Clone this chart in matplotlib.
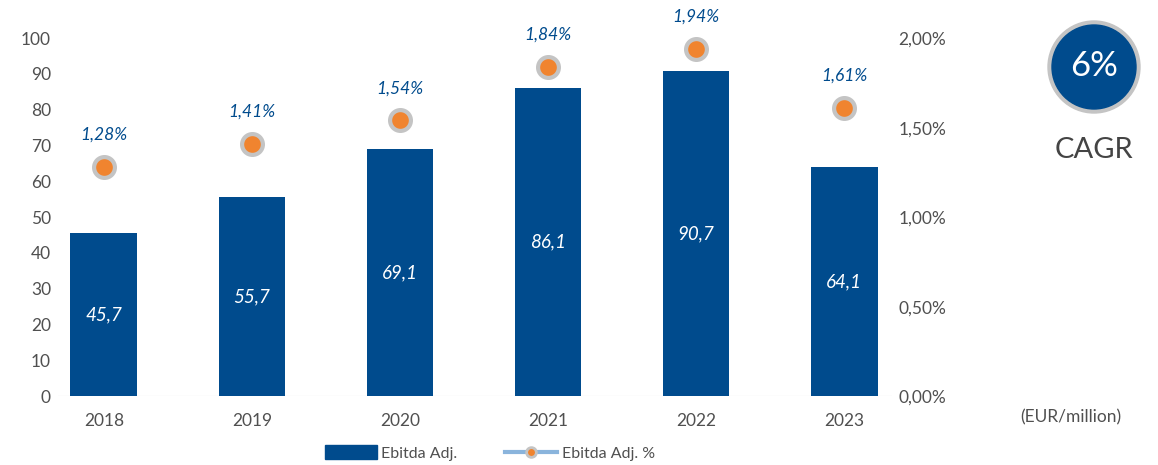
import matplotlib
matplotlib.use("Agg")
import matplotlib.pyplot as plt
from matplotlib.lines import Line2D
from matplotlib.patches import Patch, Circle

years = ["2018", "2019", "2020", "2021", "2022", "2023"]
ebitda = [45.7, 55.7, 69.1, 86.1, 90.7, 64.1]
ebitda_pct = [1.28, 1.41, 1.54, 1.84, 1.94, 1.61]
left_ticks = [0, 10, 20, 30, 40, 50, 60, 70, 80, 90, 100]
right_ticks = [0.0, 0.5, 1.0, 1.5, 2.0]
cagr_text = "6%"

BLUE = "#004b8d"
ORANGE = "#f0842f"
GREY_RING = "#c4c4c4"
TEXT = "#505050"
LINE_BLUE = "#8ab4dc"

plt.rcParams["font.family"] = ["Lato", "DejaVu Sans"]

fig = plt.figure(figsize=(11.58, 4.65), dpi=100)
ax = fig.add_axes([0.050, 0.148, 0.720, 0.770])
ax2 = ax.twinx()

x = list(range(len(years)))
ax.bar(x, ebitda, width=0.45, color=BLUE, zorder=2)
for xi, v in zip(x, ebitda):
    ax.text(xi, v / 2, f"{v:.1f}".replace(".", ","), ha="center", va="center",
            color="white", fontsize=13.5, style="italic")

ax.set_xlim(-0.31, 5.32)
ax.set_ylim(0, 100)
ax.set_yticks(left_ticks)
ax.set_xticks(x)
ax.set_xticklabels(years)

ax2.set_ylim(0, 2.0)
ax2.set_yticks(right_ticks)
ax2.set_yticklabels([f"{t:.2f}%".replace(".", ",") for t in right_ticks])

ax2.plot(x, ebitda_pct, linestyle="none", marker="o", markersize=15,
         markerfacecolor=ORANGE, markeredgecolor=GREY_RING, markeredgewidth=3,
         clip_on=False, zorder=3)
for xi, p in zip(x, ebitda_pct):
    ax2.annotate(f"{p:.2f}%".replace(".", ","), (xi, p), xytext=(0, 23),
                 textcoords="offset points", ha="center", va="center",
                 color=BLUE, fontsize=12.5, style="italic", annotation_clip=False)

for a in (ax, ax2):
    for s in a.spines.values():
        s.set_visible(False)
    a.tick_params(length=0, labelsize=12.5, labelcolor=TEXT)
ax.tick_params(axis="x", pad=12)
ax.tick_params(axis="y", pad=5)
ax2.tick_params(axis="y", pad=5)
ax.axhline(0, color="#d9d9d9", linewidth=0.8, zorder=1)

# CAGR badge
badge = fig.add_axes([(1094 - 50) / 1158, 1 - (67 + 50) / 465, 100 / 1158, 100 / 465])
badge.set_xlim(-50, 50)
badge.set_ylim(-50, 50)
badge.set_aspect("equal")
badge.axis("off")
badge.add_patch(Circle((0, 0), 46, color=GREY_RING))
badge.add_patch(Circle((0, 0), 42, color=BLUE))
badge.text(0, 1, cagr_text, ha="center", va="center", color="white", fontsize=25)
fig.text(1094 / 1158, 1 - 150 / 465, "CAGR", ha="center", va="center",
         color="#444444", fontsize=21)
fig.text(1071 / 1158, 1 - 417 / 465, "(EUR/million)", ha="center", va="center",
         color=TEXT, fontsize=12.5)

handles = [
    Patch(facecolor=BLUE, edgecolor=BLUE),
    Line2D([0], [0], color=LINE_BLUE, linewidth=3, marker="o", markersize=7,
           markerfacecolor=ORANGE, markeredgecolor=GREY_RING, markeredgewidth=2),
]
fig.legend(handles, ["Ebitda Adj.", "Ebitda Adj. %"], loc="center",
           bbox_to_anchor=(490 / 1158, 1 - 453 / 465), ncol=2, frameon=False,
           fontsize=11.5, labelcolor=TEXT, handlelength=3.25, handleheight=0.9,
           columnspacing=3.0, handletextpad=0.3)

fig.savefig("out.png", dpi=100)
